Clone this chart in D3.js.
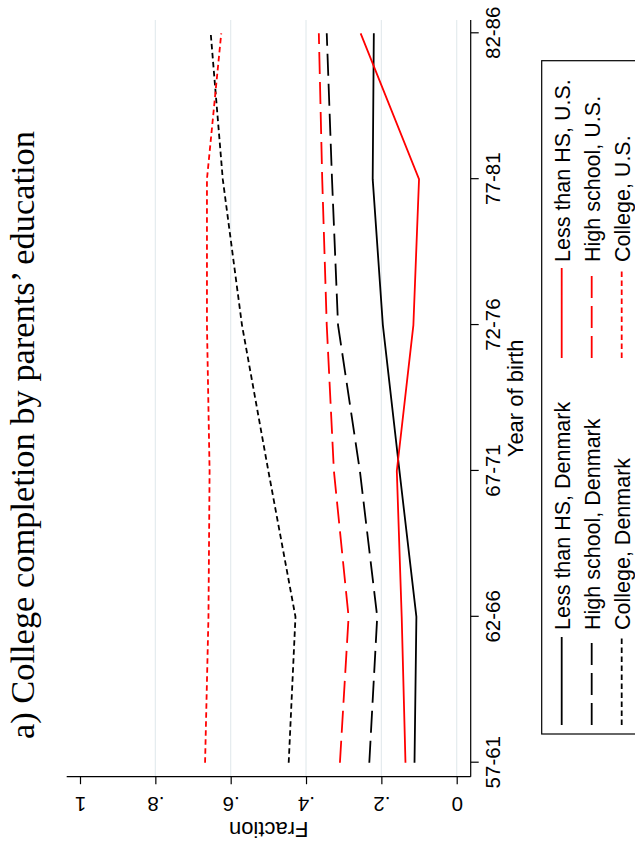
<!DOCTYPE html>
<html>
<head>
<meta charset="utf-8">
<script src="https://cdn.jsdelivr.net/npm/d3@7"></script>
<style>
html, body { margin: 0; padding: 0; background: #fff; }
svg { display: block; }
</style>
</head>
<body>
<svg id="chart" width="635" height="844"></svg>
<script>
// ---- data ----
const years = ["57-61", "62-66", "67-71", "72-76", "77-81", "82-86"];
const lessHS_DK  = [0.112, 0.107, 0.152, 0.196, 0.223, 0.220];
const highSch_DK = [0.232, 0.211, 0.257, 0.315, 0.331, 0.345];
const college_DK = [0.446, 0.428, 0.500, 0.570, 0.621, 0.653];
const lessHS_US  = [0.136, 0.146, 0.159, 0.115, 0.100, 0.255];
const highSch_US = [0.310, 0.287, 0.326, 0.345, 0.357, 0.366];
const college_US = [0.668, 0.659, 0.656, 0.663, 0.663, 0.625];
const fracTicks = [0, 0.2, 0.4, 0.6, 0.8, 1];
const fracTickLabels = ["0", ".2", ".4", ".6", ".8", "1"];
const gridTicks = [0, 0.2, 0.4, 0.6, 0.8];
const titleText = "a) College completion by parents\u2019 education";
const xTitle = "Year of birth";
const yTitle = "Fraction";

const series = [
  {name: "Less than HS, Denmark", values: lessHS_DK,  color: "#000000", dash: null,     col: 0, row: 0},
  {name: "High school, Denmark",  values: highSch_DK, color: "#000000", dash: "22,8",   col: 0, row: 1},
  {name: "College, Denmark",      values: college_DK, color: "#000000", dash: "5.5,3.5", col: 0, row: 2},
  {name: "Less than HS, U.S.",    values: lessHS_US,  color: "#ff0000", dash: null,     col: 1, row: 0},
  {name: "High school, U.S.",     values: highSch_US, color: "#ff0000", dash: "22,8",   col: 1, row: 1},
  {name: "College, U.S.",         values: college_US, color: "#ff0000", dash: "5.5,3.5", col: 1, row: 2}
];

// ---- layout (unrotated figure, 844 wide x 635 tall, then rotated -90deg) ----
const W = 844;
const plot = {left: 67.3, right: 824, top: 66.7, bottom: 470.7};
const sans = "'Liberation Sans', Arial, Helvetica, sans-serif";

const svg = d3.select("#chart");
const g = svg.append("g").attr("transform", `translate(0,${W}) rotate(-90)`);

const x = d3.scalePoint().domain(years).range([81.3, 810.7]);
const y = d3.scaleLinear().domain([0, 1]).range([456.7, 80]);

// gridlines
g.append("g").selectAll("line").data(gridTicks).join("line")
  .attr("x1", plot.left).attr("x2", plot.right)
  .attr("y1", d => y(d)).attr("y2", d => y(d))
  .attr("stroke", "#e4ebee").attr("stroke-width", 1.2);

// series lines
const line = d3.line().x((d, i) => x(years[i])).y(d => y(d));
g.append("g").selectAll("path").data(series).join("path")
  .attr("d", d => line(d.values))
  .attr("fill", "none")
  .attr("stroke", d => d.color)
  .attr("stroke-width", 1.8)
  .attr("stroke-dasharray", d => d.dash);

// x axis (year of birth)
const xAxisG = g.append("g").attr("transform", `translate(0,${plot.bottom})`)
  .call(d3.axisBottom(x).tickSize(8).tickSizeOuter(0).tickPadding(4));
xAxisG.select(".domain").remove();
xAxisG.selectAll(".tick line").attr("stroke", "#000").attr("stroke-width", 1.2);
xAxisG.selectAll(".tick text")
  .attr("font-family", sans).attr("font-size", 20.5).attr("fill", "#000")
  .attr("dy", null).attr("y", 29.5);
g.append("line").attr("x1", plot.left).attr("x2", plot.right)
  .attr("y1", plot.bottom).attr("y2", plot.bottom)
  .attr("stroke", "#000").attr("stroke-width", 1.2);

// y axis (fraction)
const yAxisG = g.append("g").attr("transform", `translate(${plot.left},0)`)
  .call(d3.axisLeft(y).tickValues(fracTicks).tickSize(7.5).tickSizeOuter(0)
    .tickFormat((d, i) => fracTickLabels[i]));
yAxisG.select(".domain").remove();
yAxisG.selectAll(".tick line").attr("stroke", "#000").attr("stroke-width", 1.2);
yAxisG.selectAll(".tick text")
  .attr("font-family", sans).attr("font-size", 20.5).attr("fill", "#000")
  .attr("x", null).attr("dy", null)
  .attr("text-anchor", "middle")
  .attr("transform", "translate(-20.5,0) rotate(-90)");
g.append("line").attr("x1", plot.left).attr("x2", plot.left)
  .attr("y1", plot.top).attr("y2", plot.bottom)
  .attr("stroke", "#000").attr("stroke-width", 1.2);

// axis titles
g.append("text").text(xTitle)
  .attr("x", (plot.left + plot.right) / 2).attr("y", 523)
  .attr("text-anchor", "middle").attr("font-family", sans).attr("font-size", 22);
g.append("text").text(yTitle)
  .attr("transform", `translate(22,${(plot.top + plot.bottom) / 2}) rotate(-90)`)
  .attr("text-anchor", "middle").attr("font-family", sans).attr("font-size", 22);

// title
g.append("text").text(titleText)
  .attr("x", 409).attr("y", 34)
  .attr("text-anchor", "middle")
  .attr("font-family", "'Liberation Serif', 'DejaVu Serif', serif")
  .attr("font-size", 33)
  .attr("textLength", 608).attr("lengthAdjust", "spacingAndGlyphs");

// legend
const leg = {left: 110, right: 783.3, top: 541.7, bottom: 680};
g.append("rect")
  .attr("x", leg.left).attr("y", leg.top)
  .attr("width", leg.right - leg.left).attr("height", leg.bottom - leg.top)
  .attr("fill", "#fff").attr("stroke", "#000").attr("stroke-width", 1.2);
const colSym = [[119, 207], [486, 576]];
const colText = [214, 582];
const rowBase = [570, 600, 630];
const lg = g.append("g").selectAll("g").data(series).join("g");
lg.append("line")
  .attr("x1", d => colSym[d.col][0]).attr("x2", d => colSym[d.col][1])
  .attr("y1", d => rowBase[d.row] - 8.3).attr("y2", d => rowBase[d.row] - 8.3)
  .attr("stroke", d => d.color).attr("stroke-width", 1.8)
  .attr("stroke-dasharray", d => d.dash);
lg.append("text").text(d => d.name)
  .attr("x", d => colText[d.col]).attr("y", d => rowBase[d.row])
  .attr("font-family", sans).attr("font-size", 21.5).attr("fill", "#000");
</script>
</body>
</html>
